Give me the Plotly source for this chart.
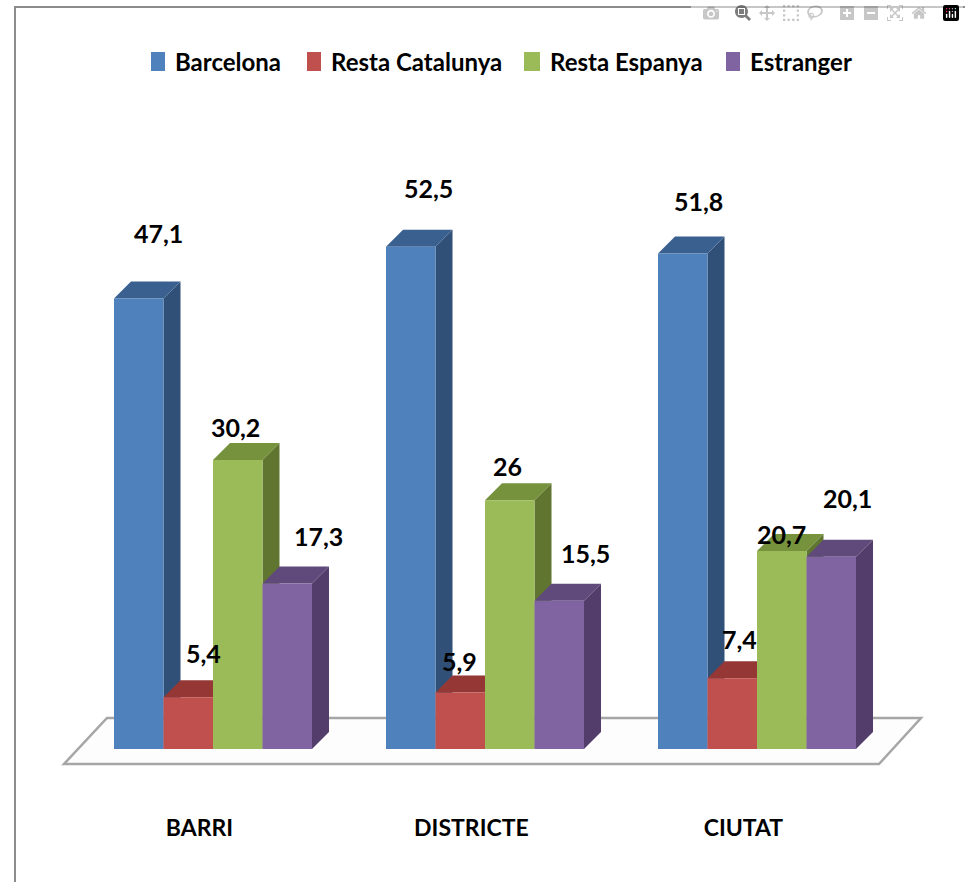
import plotly.graph_objects as go

categories = ["BARRI", "DISTRICTE", "CIUTAT"]
series_names = ["Barcelona", "Resta Catalunya", "Resta Espanya", "Estranger"]
barcelona = [47.1, 52.5, 51.8]
resta_catalunya = [5.4, 5.9, 7.4]
resta_espanya = [30.2, 26, 20.7]
estranger = [17.3, 15.5, 20.1]
series_values = [barcelona, resta_catalunya, resta_espanya, estranger]

# styling
W, H = 965, 882
PL, PR, PT, PB = 77, 893, 175, 749
YMAX = 60.0
FONT = "Lato, sans-serif"
front = ["#4F81BD", "#C0504D", "#9BBB59", "#8064A2"]
top_c = ["#3A6090", "#953735", "#76923C", "#604A7B"]
side_c = ["#315078", "#7A2E2C", "#5F7530", "#533D6B"]
BAR_W = 49.5 / 272
DX = 17 / 272
DY = 17 * YMAX / (PB - PT)
# label offsets in px (dx from bar centre, dy above bar top), by series then category
label_dx = [[20, 18, 16], [15, -1, 7], [-2, -2, 0], [31, 26, 16]]
label_dy = [[65, 59, 52], [44, 32, 39], [33, 34, 17], [48, 48, 59]]
# hand-placed legend (px): swatch left, swatch right, text left
legend_px = [(151, 165, 173), (307, 321, 329), (524, 540, 548), (726, 740, 748)]


def px(x):
    return (x - PL) / (PR - PL)


def py(y):
    return (PB - y) / (PB - PT)


x_pos = list(range(len(categories)))
fig = go.Figure()
shapes = []

floor = [(64, 764), (879, 764), (921, 718), (107, 718)]
shapes.append(dict(type="path", xref="paper", yref="paper", layer="below",
                   path="M" + " L".join(f"{px(a):.5f},{py(b):.5f}" for a, b in floor) + " Z",
                   fillcolor="#FDFDFD", line=dict(color="#A6A6A6", width=2.5)))
shapes.append(dict(type="path", xref="paper", yref="paper", layer="below",
                   path=f"M{px(15):.5f},{py(882):.5f} L{px(15):.5f},{py(7):.5f} L{px(965):.5f},{py(7):.5f}",
                   line=dict(color="#8C8C8C", width=2)))

annotations = []
n = len(series_names)
for s, (name, vals) in enumerate(zip(series_names, series_values)):
    fig.add_trace(go.Bar(name=name, x=x_pos, y=vals, showlegend=False,
                         marker=dict(color=front[s], line=dict(width=0))))
    for i, v in enumerate(vals):
        x0 = i + (s - n / 2) * BAR_W
        x1 = x0 + BAR_W
        shapes.append(dict(type="path", layer="below", xref="x", yref="y", line=dict(width=0), fillcolor=side_c[s],
                           path=f"M{x1},0 L{x1 + DX},{DY} L{x1 + DX},{v + DY} L{x1},{v} Z"))
        shapes.append(dict(type="path", layer="below", xref="x", yref="y", line=dict(width=0), fillcolor=top_c[s],
                           path=f"M{x0},{v} L{x1},{v} L{x1 + DX},{v + DY} L{x0 + DX},{v + DY} Z"))
        annotations.append(dict(x=(x0 + x1) / 2, y=v, xref="x", yref="y", showarrow=False,
                                text=f"<b>{v:g}</b>".replace(".", ","), xshift=label_dx[s][i], yshift=label_dy[s][i],
                                font=dict(family=FONT, size=25, color="#000000")))
    sw0, sw1, tx = legend_px[s]
    shapes.append(dict(type="rect", xref="paper", yref="paper", x0=px(sw0), x1=px(sw1), y0=py(71), y1=py(52),
                       fillcolor=front[s], line=dict(width=0)))
    annotations.append(dict(x=px(tx), y=py(62), xref="paper", yref="paper", xanchor="left", yanchor="middle",
                            showarrow=False, text=f"<b>{name}</b>",
                            font=dict(family=FONT, size=24, color="#000000")))

fig.update_layout(
    width=W, height=H, autosize=False,
    margin=dict(l=PL, r=W - PR, t=PT, b=H - PB, pad=0),
    paper_bgcolor="#FFFFFF", plot_bgcolor="rgba(0,0,0,0)",
    barmode="group", bargap=1 - 4 * BAR_W, bargroupgap=0,
    shapes=shapes, annotations=annotations, showlegend=False,
    xaxis=dict(range=[-0.5, 2.5], tickvals=[i - 0.05 for i in x_pos], ticktext=[f"<b>{c}</b>" for c in categories],
               showgrid=False, zeroline=False, showline=False, ticks="outside", ticklen=58,
               tickcolor="rgba(0,0,0,0)", tickfont=dict(family=FONT, size=23, color="#000000")),
    yaxis=dict(range=[0, YMAX], visible=False, fixedrange=True),
)
fig.write_html("out.html", post_script="document.body.style.margin='0';document.documentElement.style.overflow='hidden';")
